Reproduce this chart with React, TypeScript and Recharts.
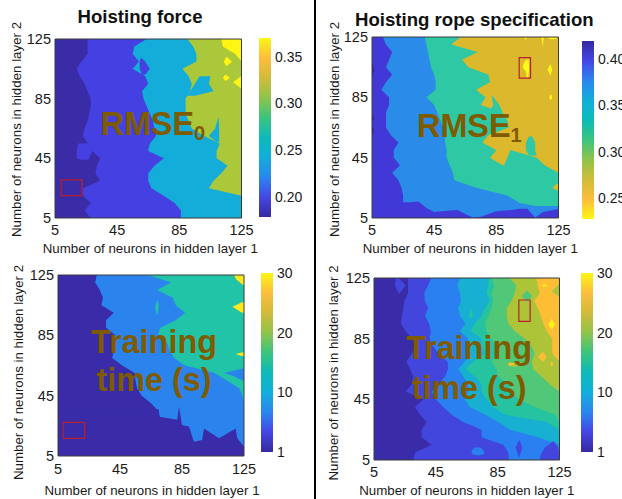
import { Area, Bar, ComposedChart, ReferenceArea, XAxis, YAxis } from 'recharts'

// contour rows of hidden layer 2, top to bottom
const layerTwoRows = [125, 120, 115, 110, 105, 100, 95, 90, 85, 80, 75, 70, 65, 60, 55, 50, 45, 40, 35, 30, 25, 20, 15, 10, 5]
const axisTicks = [5, 45, 85, 125]
const xLabel = 'Number of neurons in hidden layer 1'
const yLabel = 'Number of neurons in hidden layer 2'

// layer 1 value where each contour band ends, per row
const forceEdges = [
  [26, 26, 26, 22, 19, 21, 24, 26, 28, 28, 27, 26, 24, 23, 26, 29, 34, 32, 31, 34, 23, 23, 28, 24, 28],
  [64, 56, 55, 59, 55, 63, 65, 61, 62, 64, 66, 68, 69, 70, 66, 65, 75, 69, 65, 65, 67, 75, 82, 86, 86],
  [90, 94, 96, 96, 87, 91, 93, 92, 89, 89, 89, 91, 93, 101, 111, 109, 109, 116, 112, 107, 104, 125, 125, 125, 125],
  [112, 113, 121, 125, 125, 125, 125, 125, 125, 125, 125, 125, 125, 125, 125, 125, 125, 125, 125, 125, 125, 125, 125, 125, 125],
]
const ropeEdges = [
  [12, 14, 18, 16, 14, 18, 14, 11, 16, 16, 14, 14, 14, 17, 22, 19, 19, 23, 18, 22, 24, 25, 25, 25, 25],
  [39, 40, 41, 42, 43, 45, 46, 46, 40, 45, 47, 49, 51, 52, 52, 53, 53, 55, 57, 58, 72, 92, 100, 125, 125],
  [62, 56, 73, 63, 67, 80, 81, 72, 78, 75, 89, 92, 93, 80, 76, 85, 81, 89, 125, 125, 125, 125, 125, 125, 125],
]
const forceTimeEdges = [
  [30, 29, 32, 34, 33, 41, 36, 36, 42, 41, 41, 40, 46.5, 54.5, 55, 56, 59, 65, 69.5, 71, 71, 71, 71, 71, 71],
  [63, 78, 69, 79, 81, 87, 81, 71, 69.5, 75.5, 77, 80, 87, 106, 114, 122, 124, 125, 125, 125, 125, 125, 125, 125, 125],
]
const ropeTimeEdges = [
  [27, 27, 27, 24.6, 24, 23, 22.5, 25.5, 29.4, 31.5, 29.4, 26, 28.3, 30.4, 29.4, 25.5, 37, 31.5, 34.7, 39, 35.8, 35.8, 42.3, 31.5, 30.4],
  [42, 40, 37.5, 38, 40, 38, 40.6, 41.9, 41, 43.4, 46.6, 52.6, 53, 51, 46.6, 42.3, 44.9, 49.8, 55, 62.8, 74.6, 74.6, 88.6, 91.9, 92.3],
  [60.6, 59, 60.6, 61.3, 59.5, 60.6, 64.3, 60.6, 66, 66, 67.7, 63.8, 59.5, 62.8, 66, 66, 63.8, 67, 76.8, 85.4, 93, 111, 125, 125, 125],
  [79, 79, 77.8, 80, 76.8, 74.6, 70.3, 67.7, 74.6, 74.6, 76.8, 69.2, 64.3, 70.3, 74.6, 74.6, 77.8, 82, 89.3, 116.4, 125, 125, 125, 125, 125],
  [81, 82.8, 81, 82, 81, 79, 76.8, 77.8, 81, 84.3, 85.4, 81, 84.3, 85.4, 91.9, 94, 98.3, 109, 122, 125, 125, 125, 125, 125, 125],
  [93, 97, 96, 94, 90.8, 90.8, 91.9, 96, 102.6, 107, 109, 107, 108, 113.4, 118.8, 125, 125, 125, 125, 125, 125, 125, 125, 125, 125],
  [110, 111, 112.3, 108.7, 111, 113, 114.5, 116.6, 120.3, 120.3, 120.3, 125, 125, 125, 125, 125, 125, 125, 125, 125, 125, 125, 125, 125, 125],
]

// islands and notches the row edges can't describe: [layer 2, from, to]
type Patch = { level: number; rows: number[][] }
const forcePatches: Patch[] = [
  { level: 1, rows: [[55, 20, 26], [50, 19, 29], [45, 19, 27], [44, 22, 26]] },
  { level: 1, rows: [[112, 60, 61], [110, 59.5, 63], [105, 59.5, 66], [101, 61, 63]] },
  { level: 2, rows: [[100, 98, 105], [95, 95, 104], [90, 92, 107], [87, 90, 95]] },
  { level: 2, rows: [[72, 110, 110.3], [65, 108, 110.6], [60, 104, 110.6], [56, 109, 110.6]] },
  { level: 4, rows: [[112.7, 115, 116], [109.8, 113.6, 119], [107.1, 115, 115.5]] },
  { level: 4, rows: [[101, 114.5, 115], [99, 113, 117.5], [97, 114.5, 115]] },
  { level: 4, rows: [[100, 124.6, 125], [96, 119.6, 125], [92, 124.6, 125]] },
]
const ropePatches: Patch[] = [
  { level: 2, rows: [[86, 82, 82.5], [80, 83, 87], [75, 80, 89]] },
  { level: 2, rows: [[59, 106, 108], [55, 104, 110], [50, 104, 110], [46.5, 106, 111]] },
  { level: 2, rows: [[50, 94, 94.5], [45, 92, 111], [40, 90, 116], [35, 90, 125]] },
  { level: 3, rows: [[28, 124.5, 125], [25, 121, 125], [23, 124.5, 125]] },
  { level: 1, rows: [[13, 108, 125], [10, 100, 125]] },
  { level: 4, rows: [[110, 104, 106], [107, 102.5, 106], [105, 102, 106], [102, 104, 106], [98, 104.5, 105.5]] },
  { level: 4, rows: [[107, 119.6, 119.8], [103.5, 118, 121], [99.5, 119.6, 119.8]] },
  { level: 4, rows: [[87, 120, 120.2], [85, 119, 121], [83, 120, 120.2]] },
  { level: 4, rows: [[125, 114, 115.5], [119, 114.8, 115]] },
  { level: 4, rows: [[125, 117, 124], [123.5, 120, 123]] },
  { level: 4, rows: [[125, 103, 104.5], [123, 103.7, 103.8]] },
  { level: 5, rows: [[108, 5, 5.1], [103, 5, 6.5], [99, 5, 5.1]] },
  { level: 5, rows: [[73, 5, 5.1], [71, 5, 6.5], [69, 5, 5.1]] },
  { level: 5, rows: [[66, 5, 5.1], [63, 5, 6.5], [60, 5, 5.1]] },
]
const forceTimePatches: Patch[] = [
  { level: 2, rows: [[108.4, 69, 69.3], [104, 67.6, 70], [98.5, 68.7, 69]] },
  { level: 1, rows: [[63, 124, 125], [60, 112, 125], [58, 118, 125], [55, 124, 125]] },
  { level: 3, rows: [[125, 118.5, 125], [122, 120, 125], [118, 124.8, 125]] },
  { level: 3, rows: [[107, 123.7, 125], [104, 117.5, 125], [100, 123.7, 125]] },
  { level: 3, rows: [[73.7, 123.5, 125], [72.6, 119.6, 125], [71.3, 123.5, 125]] },
]
const ropeTimePatches: Patch[] = [
  { level: 1, rows: [[125, 19, 21], [120, 18.6, 25.5], [115, 21, 21.5]] },
  { level: 2, rows: [[13.3, 70, 74], [11, 68, 76], [9, 68.5, 76.5], [8, 72, 72.5]] },
  { level: 2, rows: [[89.5, 45, 45.5], [88.5, 44, 47.7], [87.5, 45, 45.5]] },
  { level: 1, rows: [[18, 98.7, 99], [13.3, 96.6, 101], [6.8, 98.7, 99]] },
  { level: 1, rows: [[17.3, 121, 121.5], [13.3, 115.6, 124], [9, 113, 125], [5, 112, 125]] },
  { level: 4, rows: [[104, 67.7, 68], [101, 66.5, 69], [98, 67.7, 68]] },
  { level: 5, rows: [[116.6, 103.7, 104], [113.3, 100.5, 107.4], [110, 103, 105]] },
  { level: 6, rows: [[70, 98, 99], [68.3, 91, 102.6], [66.5, 95, 97]] },
  { level: 6, rows: [[121, 124.5, 125], [116, 119.9, 125], [113, 124.5, 125]] },
  { level: 7, rows: [[76, 114, 114.5], [73, 111, 116.6], [70, 114, 114.5]] },
  { level: 7, rows: [[69.5, 93, 93.5], [68.3, 91.4, 95.7], [67, 93, 93.5]] },
  { level: 7, rows: [[70, 120, 120.2], [68.3, 118.8, 121], [66.5, 120, 120.2]] },
  { level: 8, rows: [[121, 115, 115.3], [120, 113.4, 117.3], [119, 115, 115.3]] },
  { level: 8, rows: [[98, 119.9, 120.2], [94.2, 117.7, 122], [91.4, 119.9, 120.2]] },
]

// lower boundary seen along layer 1: [layer 1, layer 2]
const ropeBottom = [
  [5, 15.4], [30, 15.4], [35, 16], [40, 11.6], [45, 9], [50, 9.4], [55, 9.9], [60, 10.3], [65, 7.7], [70, 5.4], [75, 5.9],
  [80, 7.7], [85, 9.4], [90, 9.9], [95, 10.3], [100, 11.2], [105, 11.2], [110, 5.4], [115, 9], [120, 9.9], [125, 11],
]
const forceTimeBottom = [
  [5, 36], [70, 36], [70.4, 31], [82, 29], [83, 38], [85, 25.5], [89.5, 24.5], [92.7, 14.5], [98, 15.6], [99.2, 23.3],
  [108.9, 16.7], [119.6, 23.3], [120.7, 16.7], [125, 11.2],
]

// highlighted optimum: [x1, x2, y1, y2]
const forceBox = [9, 22.4, 20, 30.5]
const ropeBox = [99.7, 107, 97.8, 111.3]
const forceTimeBox = [8.4, 22.2, 16.7, 27.3]
const ropeTimeBox = [98.7, 106, 96.4, 110.5]

const rmseForceTicks = [0.2, 0.25, 0.3, 0.35]
const rmseRopeTicks = [0.25, 0.3, 0.35, 0.4]
const timeTicks = [0, 10, 20, 30]

const FONT = '"Liberation Sans", Arial, sans-serif'
const BROWN = '#7f5b00'
const INK = '#1a1a1a'
const RED = '#b81f2e'

const PARULA = ['#352a9f', '#4646e6', '#2b86ee', '#12aedb', '#0bbbb9', '#3cc47e', '#8fc44a', '#d2bb3a', '#fdbd3c', '#fbf615']

const forceColors = ['#3a2ca6', '#4540e2', '#14acd8', '#abc83a', '#fdf514']
const ropeColors = ['#4238d8', '#2a8ce8', '#2ec8a4', '#dcb82c', '#fdf814', '#352a9c']
const forceTimeColors = ['#3a2ca8', '#2b84ee', '#22c4a8', '#fde81e']
const ropeTimeColors = ['#3a2ca8', '#4246dc', '#2a80f0', '#18b0d0', '#25c3a0', '#50c878', '#aec438', '#fbbe34', '#fbf215']

const bandRows = (edge: number[]) => layerTwoRows.map((y, i) => ({ y, x: [5, edge[i]] }))
const patchRows = (rows: number[][]) => rows.map(([y, from, to]) => ({ y, x: [from, to] }))

const MARGIN = { top: 30, right: 30, left: 0, bottom: 0 }
const Y_WIDTH = 52
const X_HEIGHT = 44

function ContourPanel({ plot, edges, patches, colors, box, bottom, shift, xTickMargin = 1 }: any) {
  const width = plot.width + Y_WIDTH + MARGIN.right
  const height = plot.height + MARGIN.top + X_HEIGHT
  const place = { position: 'absolute' as const, left: plot.left - Y_WIDTH, top: plot.top - MARGIN.top }
  const tick = { fontSize: 14.5, fill: INK, fontFamily: FONT }
  const labelStyle = { fontSize: 13.3, fill: INK, fontFamily: FONT, textAnchor: 'middle' as const }
  const bands = edges.map((_: number[], i: number) => edges.length - 1 - i)
  return (
    <>
      <div style={place}>
        <ComposedChart width={width} height={height} layout="vertical" margin={MARGIN}>
          <XAxis
            type="number"
            dataKey="x"
            domain={[5, 125]}
            ticks={axisTicks}
            interval={0}
            allowDataOverflow
            axisLine={false}
            tickLine={false}
            tick={tick}
            height={X_HEIGHT}
            tickMargin={xTickMargin}
            label={{ value: xLabel, position: 'insideBottom', offset: 8, dx: shift.xDx, dy: shift.xDy, style: labelStyle }}
          />
          <YAxis
            type="number"
            dataKey="y"
            domain={[5, 125]}
            ticks={axisTicks}
            interval={0}
            reversed
            allowDataOverflow
            axisLine={false}
            tickLine={false}
            tick={tick}
            tickSize={4}
            tickMargin={0}
            width={Y_WIDTH}
            label={{ value: yLabel, angle: -90, position: 'insideLeft', offset: 14, dx: shift.yDx, dy: shift.yDy, style: labelStyle }}
          />
          <Area
            data={bandRows(layerTwoRows.map(() => 125))}
            dataKey="x"
            stroke="none"
            fill={colors[edges.length]}
            fillOpacity={1}
            dot={false}
            activeDot={false}
            isAnimationActive={false}
          />
          {bands.map((level: number) => (
            <Area
              key={`band-${level}`}
              data={bandRows(edges[level])}
              dataKey="x"
              stroke="none"
              fill={colors[level]}
              fillOpacity={1}
              dot={false}
              activeDot={false}
              isAnimationActive={false}
            />
          ))}
          {patches.map((patch: Patch, i: number) => (
            <Area
              key={`patch-${i}`}
              data={patchRows(patch.rows)}
              dataKey="x"
              stroke="none"
              fill={colors[patch.level]}
              fillOpacity={1}
              dot={false}
              activeDot={false}
              isAnimationActive={false}
            />
          ))}
        </ComposedChart>
      </div>
      <div style={place}>
        <ComposedChart
          width={width}
          height={height}
          margin={{ top: MARGIN.top, right: MARGIN.right, left: Y_WIDTH, bottom: X_HEIGHT }}
        >
          <XAxis type="number" dataKey="x" domain={[5, 125]} allowDataOverflow hide />
          <YAxis type="number" domain={[5, 125]} allowDataOverflow hide />
          {bottom && (
            <Area
              data={bottom.map(([x, y]: number[]) => ({ x, y }))}
              dataKey="y"
              baseValue={5}
              stroke="none"
              fill={colors[0]}
              fillOpacity={1}
              dot={false}
              activeDot={false}
              isAnimationActive={false}
            />
          )}
          <ReferenceArea x1={box[0]} x2={box[1]} y1={box[2]} y2={box[3]} fill="none" stroke={RED} strokeWidth={1.2} />
          <ReferenceArea x1={5} x2={125} y1={5} y2={125} fill="none" stroke="#3a3a3a" strokeWidth={1} />
        </ComposedChart>
      </div>
    </>
  )
}

function ColorBar({ id, bar, domain, ticks, stops, format }: any) {
  return (
    <div style={{ position: 'absolute', left: bar.left, top: bar.top - 8 }}>
      <ComposedChart
        width={bar.width + 44}
        height={bar.height + 16}
        data={[{ name: 'scale', range: domain }]}
        margin={{ top: 8, right: 0, left: 0, bottom: 8 }}
        barCategoryGap={0}
      >
        <defs>
          <linearGradient id={id} x1="0" y1="0" x2="0" y2="1">
            {stops.map((color: string, i: number) => (
              <stop key={i} offset={i / (stops.length - 1)} stopColor={color} />
            ))}
          </linearGradient>
        </defs>
        <XAxis dataKey="name" hide />
        <YAxis
          orientation="right"
          type="number"
          domain={domain}
          ticks={ticks}
          interval={0}
          allowDataOverflow
          axisLine={false}
          tickLine={false}
          tick={{ fontSize: 14, fill: INK, fontFamily: FONT }}
          tickFormatter={format}
          tickSize={3}
          tickMargin={1}
          width={44}
        />
        <Bar dataKey="range" fill={`url(#${id})`} isAnimationActive={false} />
      </ComposedChart>
    </div>
  )
}

const heading = { position: 'absolute' as const, fontFamily: FONT, fontWeight: 700, fontSize: 18.6, lineHeight: '22px', color: '#111', whiteSpace: 'nowrap' as const }
const overlay = { position: 'absolute' as const, fontFamily: FONT, fontWeight: 700, fontSize: 32.4, lineHeight: '38px', color: BROWN, whiteSpace: 'nowrap' as const }
const subscript = { fontSize: 20, verticalAlign: -5, lineHeight: 0 }

const fixed2 = (v: number) => v.toFixed(2)
const timeLabel = (v: number) => (v === 0 ? '1' : String(v))

export default function App() {
  return (
    <div style={{ position: 'absolute', left: 0, top: 0, width: 622, height: 499, overflow: 'hidden', background: '#fff' }}>
      <ContourPanel plot={{ left: 55, top: 38.5, width: 186.5, height: 179 }} edges={forceEdges} patches={forcePatches} colors={forceColors} box={forceBox} shift={{ xDx: 2, xDy: -1, yDx: -1, yDy: 1 }} />
      <ContourPanel plot={{ left: 371.5, top: 36.5, width: 186.5, height: 181 }} edges={ropeEdges} patches={ropePatches} colors={ropeColors} box={ropeBox} bottom={ropeBottom} shift={{ xDx: 5, xDy: -1, yDx: 0, yDy: 2 }} />
      <ContourPanel plot={{ left: 57.5, top: 275, width: 186, height: 181 }} edges={forceTimeEdges} patches={forceTimePatches} colors={forceTimeColors} box={forceTimeBox} bottom={forceTimeBottom} shift={{ xDx: 1, xDy: 3, yDx: -2, yDy: 7 }} xTickMargin={2} />
      <ContourPanel plot={{ left: 373.5, top: 277.5, width: 185.5, height: 182 }} edges={ropeTimeEdges} patches={ropeTimePatches} colors={ropeTimeColors} box={ropeTimeBox} shift={{ xDx: 0, xDy: -1, yDx: -3, yDy: 4 }} />

      <ColorBar id="barForce" bar={{ left: 259, top: 38, width: 12, height: 179 }} domain={[0.1786, 0.37]} ticks={rmseForceTicks} stops={[...PARULA].reverse()} format={fixed2} />
      <ColorBar id="barRope" bar={{ left: 582, top: 41, width: 12, height: 178 }} domain={[0.2275, 0.419]} ticks={rmseRopeTicks} stops={PARULA} format={fixed2} />
      <ColorBar id="barForceTime" bar={{ left: 261, top: 273, width: 12, height: 179 }} domain={[0, 30]} ticks={timeTicks} stops={[...PARULA].reverse()} format={timeLabel} />
      <ColorBar id="barRopeTime" bar={{ left: 581, top: 273, width: 12, height: 179 }} domain={[0, 30]} ticks={timeTicks} stops={[...PARULA].reverse()} format={timeLabel} />

      <div style={{ ...heading, left: 77.5, top: 5.5 }}>Hoisting force</div>
      <div style={{ ...heading, left: 355, top: 8.5 }}>Hoisting rope specification</div>

      <div style={{ ...overlay, left: 100.5, top: 105 }}>RMSE<span style={subscript}>0</span></div>
      <div style={{ ...overlay, left: 417, top: 107 }}>RMSE<span style={subscript}>1</span></div>
      <div style={{ ...overlay, left: 54, width: 200, top: 323, textAlign: 'center' }}>Training<br />time (s)</div>
      <div style={{ ...overlay, left: 369, width: 200, top: 328, textAlign: 'center', lineHeight: '40px' }}>Training<br />time (s)</div>

      <div style={{ position: 'absolute', left: 314, top: 0, width: 2, height: 499, background: '#000' }} />
    </div>
  )
}
